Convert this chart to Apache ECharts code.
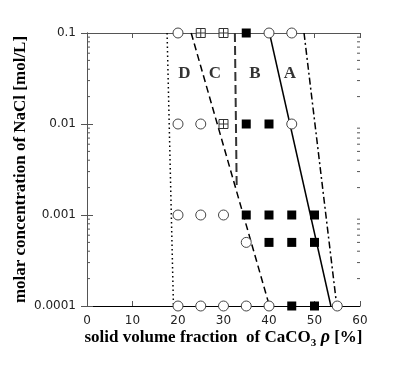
<!DOCTYPE html>
<html>
<head>
<meta charset="utf-8">
<script src="https://cdn.jsdelivr.net/npm/echarts@6/dist/echarts.min.js"></script>
<style>
  html, body { margin: 0; padding: 0; background: #fff; }
  #chart { width: 408px; height: 374px; }
</style>
</head>
<body>
<div id="chart"></div>
<script>
// observed states: open circle, crossed square, filled square
var openCircles = [
  [20, 0.1], [40, 0.1], [45, 0.1],
  [20, 0.01], [25, 0.01], [45, 0.01],
  [20, 0.001], [25, 0.001], [30, 0.001],
  [35, 0.0005],
  [20, 0.0001], [25, 0.0001], [30, 0.0001], [35, 0.0001], [40, 0.0001], [55, 0.0001]
];
var crossedSquares = [[25, 0.1], [30, 0.1], [30, 0.01]];
var filledSquares = [
  [35, 0.1],
  [35, 0.01], [40, 0.01],
  [35, 0.001], [40, 0.001], [45, 0.001], [50, 0.001],
  [40, 0.0005], [45, 0.0005], [50, 0.0005],
  [45, 0.0001], [50, 0.0001]
];

// region boundaries
var lineDotted = [[17.6, 0.1], [19, 0.0001]];
var lineDashed = [[22.9, 0.1], [40.1, 0.0001]];
var lineLongDash = [[32.5, 0.1], [32.9, 0.002]];
var lineSolid = [[40.1, 0.1], [53.6, 0.0001]];
var lineDashDot = [[47.7, 0.1], [54.9, 0.0001]];

var regionLabels = [[21.4, 0.036, 'D'], [28.1, 0.036, 'C'], [36.9, 0.036, 'B'], [44.6, 0.036, 'A']];

var yTicks = [0.0001, 0.001, 0.01, 0.1];
var yMinor = [];
[0.0001, 0.001, 0.01].forEach(function (d) {
  for (var k = 2; k <= 9; k++) yMinor.push(+(d * k).toPrecision(3));
});

var chart = echarts.init(document.getElementById('chart'));

var frame = '#555';
var tickFont = { fontFamily: 'DejaVu Sans', fontSize: 12, color: '#222' };
var serif = 'Liberation Serif';

function lineSeries(data, type, width, color) {
  return {
    type: 'line', data: data, symbol: 'none', silent: true, z: 2,
    lineStyle: { color: color || '#000', width: width, type: type, opacity: 1 }
  };
}

chart.setOption({
  animation: false,
  grid: { left: 87, right: 48, top: 33, bottom: 68 },
  xAxis: [{
    type: 'value', min: 0, max: 60, interval: 10,
    axisLine: { lineStyle: { color: '#000', width: 1 } },
    axisTick: { inside: true, length: 5, lineStyle: { color: frame } },
    axisLabel: Object.assign({ margin: 9 }, tickFont),
    splitLine: { show: false },
    name: '{a|solid volume fraction  of CaCO}{s|3}{r| ρ}{a| [%]}',
    nameLocation: 'middle', nameGap: 20, nameMoveOverlap: false,
    nameTextStyle: {
      rich: {
        a: { fontFamily: serif, fontWeight: 'bold', fontSize: 17, color: '#000' },
        s: { fontFamily: serif, fontWeight: 'bold', fontSize: 11, color: '#000', verticalAlign: 'bottom', padding: [12, 0, 0, 0] },
        r: { fontFamily: serif, fontWeight: 'bold', fontStyle: 'italic', fontSize: 18, color: '#000' }
      }
    }
  }, {
    type: 'value', position: 'top', min: 0, max: 60, interval: 10,
    axisLine: { lineStyle: { color: frame } },
    axisTick: { inside: true, length: 5, lineStyle: { color: frame } },
    axisLabel: { show: false }, splitLine: { show: false }
  }],
  yAxis: [{
    type: 'log', logBase: 10, min: 0.0001, max: 0.1,
    axisLine: { show: true, lineStyle: { color: frame } },
    axisTick: { inside: true, length: 6, lineStyle: { color: frame } },
    axisLabel: Object.assign({
      margin: 11,
      formatter: function (v) {
        var i = yTicks.findIndex(function (t) { return Math.abs(t - v) / t < 1e-6; });
        return i >= 0 ? String(yTicks[i]) : '';
      }
    }, tickFont),
    splitLine: { show: false },
    name: 'molar concentration of NaCl [mol/L]',
    nameLocation: 'middle', nameGap: 58, nameMoveOverlap: false,
    nameTextStyle: { fontFamily: serif, fontWeight: 'bold', fontSize: 17, color: '#000' }
  }, {
    type: 'log', logBase: 10, min: 0.0001, max: 0.1, position: 'right',
    axisLine: { show: true, lineStyle: { color: frame } },
    axisTick: { inside: true, length: 6, lineStyle: { color: frame } },
    axisLabel: { show: false }, splitLine: { show: false }
  }],
  series: [
    lineSeries(lineDotted, [1.5, 3], 1.5),
    lineSeries(lineDashed, [7, 4], 1.5),
    lineSeries(lineLongDash, [9, 4], 2, '#333'),
    lineSeries(lineSolid, 'solid', 1.5),
    lineSeries(lineDashDot, [7, 3, 2, 3], 1.5),
    {
      // minor log ticks on left and right frame
      type: 'custom', silent: true, z: 1,
      data: yMinor.map(function (v) { return [0, v]; }),
      renderItem: function (params, api) {
        var l = api.coord([0, api.value(1)]);
        var r = api.coord([60, api.value(1)]);
        var st = { stroke: frame, lineWidth: 1 };
        return {
          type: 'group', children: [
            { type: 'line', shape: { x1: l[0], y1: l[1], x2: l[0] + 3, y2: l[1] }, style: st },
            { type: 'line', shape: { x1: r[0], y1: r[1], x2: r[0] - 3, y2: r[1] }, style: st }
          ]
        };
      }
    },
    {
      type: 'scatter', data: openCircles, symbol: 'circle', symbolSize: 10, z: 5,
      itemStyle: { color: '#fff', borderColor: '#444', borderWidth: 1, opacity: 1 }
    },
    {
      type: 'scatter', data: crossedSquares, symbolSize: 9, z: 5,
      symbol: 'path://M0,0H10V10H0Z M5,0V10 M0,5H10',
      itemStyle: { color: '#fff', borderColor: '#333', borderWidth: 1, opacity: 1 }
    },
    {
      type: 'scatter', data: filledSquares, symbol: 'rect', symbolSize: 9, z: 5,
      itemStyle: { color: '#000', opacity: 1 }
    },
    {
      type: 'scatter', data: regionLabels, symbolSize: 0, silent: true, z: 6,
      label: {
        show: true, position: 'inside',
        formatter: function (p) { return p.data[2]; },
        fontFamily: serif, fontWeight: 'bold', fontSize: 17, color: '#000'
      }
    }
  ]
});
</script>
</body>
</html>
